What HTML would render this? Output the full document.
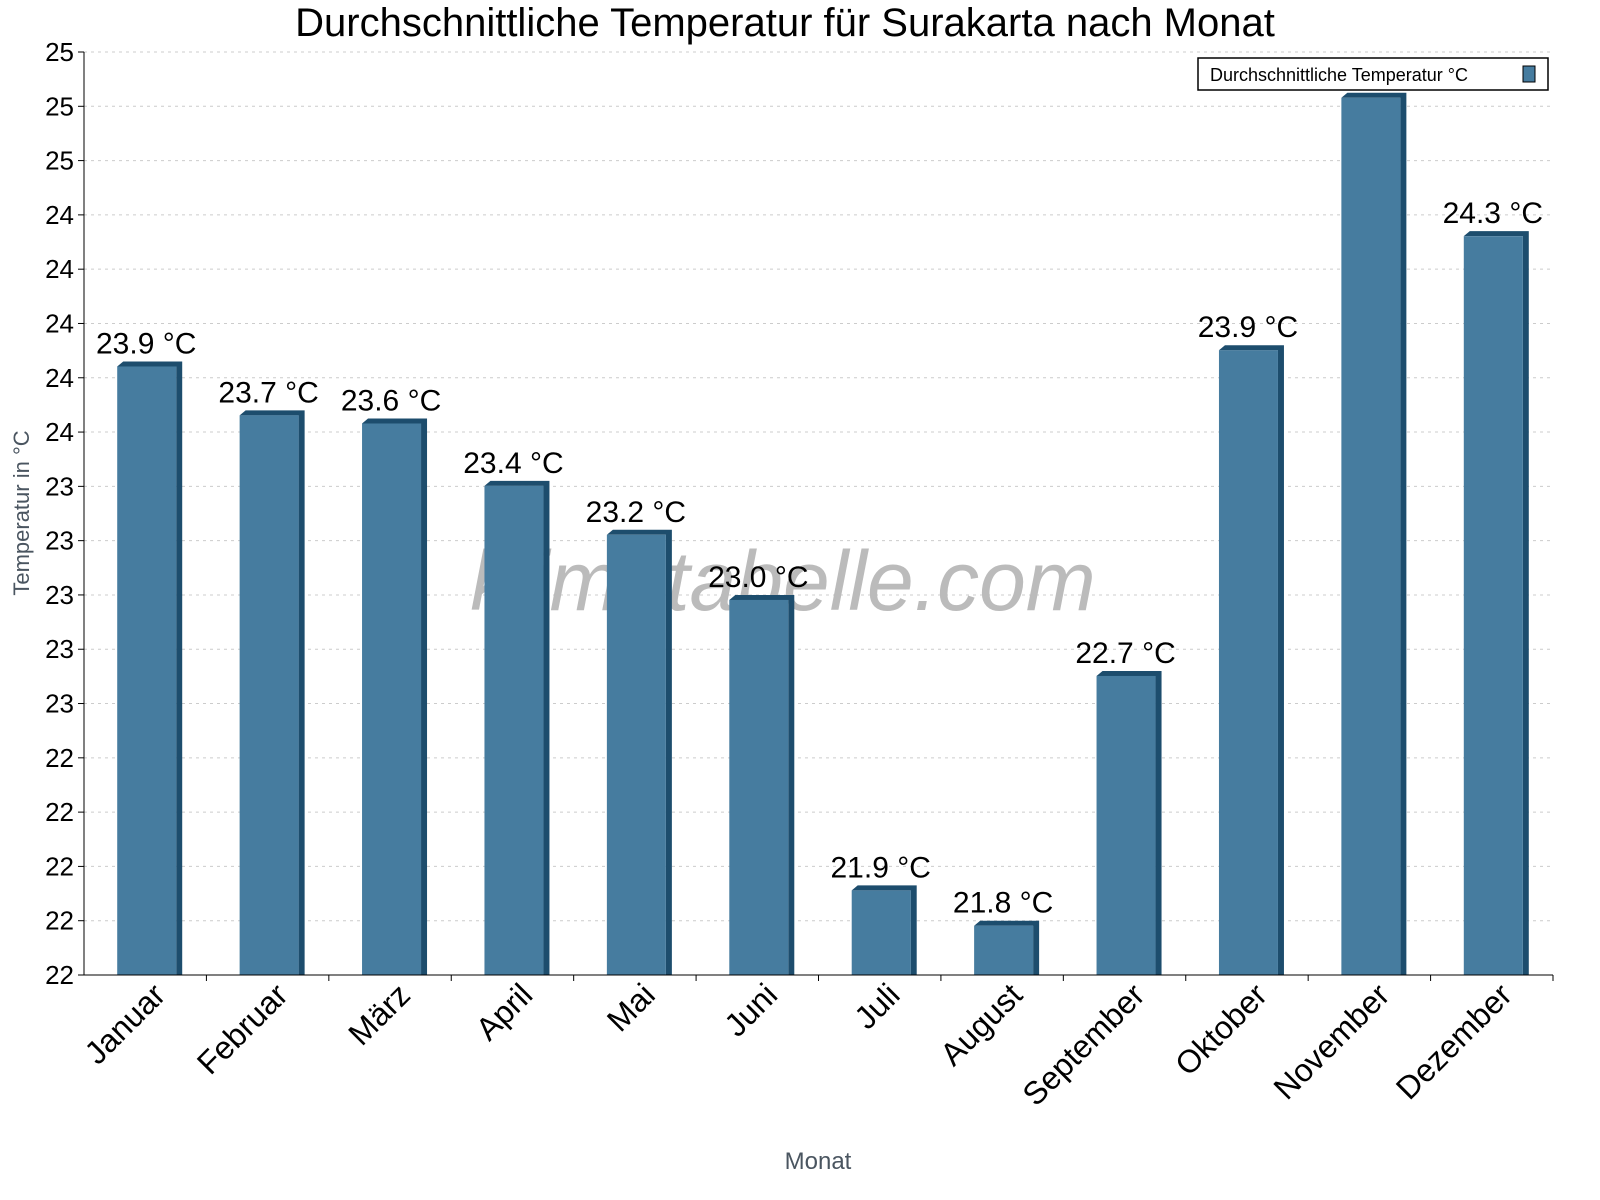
<!DOCTYPE html>
<html><head><meta charset="utf-8"><style>
html,body{margin:0;padding:0;background:#fff;font-family:"Liberation Sans",sans-serif;overflow:hidden;width:1600px;height:1200px;}
svg{display:block;}
svg text{font-family:"Liberation Sans",sans-serif;}
</style></head><body>
<svg id="chart" width="1600" height="1200" viewBox="0 0 1600 1200">
<text x="785" y="36" font-size="40" text-anchor="middle">Durchschnittliche Temperatur für Surakarta nach Monat</text>
<g id="grid"></g>
<text x="783" y="610" font-size="84" font-style="italic" fill="#bbb" text-anchor="middle">klimatabelle.com</text>
<g id="bars"></g>
<g id="axes"></g>
<text transform="translate(29,513) rotate(-90)" font-size="22" fill="#4a5560" text-anchor="middle">Temperatur in °C</text>
<text x="818" y="1169" font-size="24" fill="#4a5560" text-anchor="middle">Monat</text>
<g>
<rect x="1198" y="58" width="350" height="32" fill="#fff" stroke="#000" stroke-width="1.5"/>
<text x="1210" y="81" font-size="18">Durchschnittliche Temperatur °C</text>
<rect x="1523" y="66" width="12" height="16" fill="#467c9f" stroke="#000" stroke-width="1"/>
</g>
</svg>
<script>
const categories=["Januar","Februar","März","April","Mai","Juni","Juli","August","September","Oktober","November","Dezember"];
const values=[23.86,23.68,23.65,23.42,23.24,23.0,21.93,21.8,22.72,23.92,24.85,24.34];
const yTicks=[21.6,21.8,22.0,22.2,22.4,22.6,22.8,23.0,23.2,23.4,23.6,23.8,24.0,24.2,24.4,24.6,24.8,25.0];
const NS="http://www.w3.org/2000/svg";
const L=84,R=1553,T=52,B=975,yMin=21.6,yMax=25.0;
const y=v=>B-(v-yMin)/(yMax-yMin)*(B-T);
const bw=(R-L)/categories.length;
const x=i=>L+bw*(i+0.5);
function mk(tag,attrs,parent){const e=document.createElementNS(NS,tag);for(const k in attrs)e.setAttribute(k,attrs[k]);parent.appendChild(e);return e;}
const grid=document.getElementById('grid'),bars=document.getElementById('bars'),axes=document.getElementById('axes');
yTicks.forEach(t=>{
  const yy=y(t);
  if(t!==yMin){const g=mk('line',{x1:L,x2:R,y1:yy,y2:yy,stroke:'#ccc','stroke-dasharray':'3,4'},grid);
  
  }
  const tk=mk('line',{x1:L-6,x2:L,y1:yy,y2:yy,stroke:'#000'},axes);
  
  
  const lb=mk('text',{x:L-10,y:yy+9,'font-size':26,'text-anchor':'end'},axes);
  lb.textContent=Math.round(t).toString();
  
  
});
mk('line',{x1:L,x2:L,y1:T,y2:B,stroke:'#000'},axes);
mk('line',{x1:L,x2:R,y1:B,y2:B,stroke:'#000'},axes);
categories.forEach((c,i)=>{
  const cx=x(i),top=y(values[i]);
  const g=mk('g',{},bars);
  
  
  const fl=cx-28,fw=59,sd=6,th=5;
  mk('polygon',{points:`${fl},${top+th} ${fl+sd},${top} ${fl+fw+sd},${top} ${fl+fw+sd},${B} ${fl+fw},${B} ${fl+fw},${top+th}`,fill:'#1d4d6d'},g);
  mk('rect',{x:fl,y:top+th,width:fw,height:B-top-th,fill:'#467c9f'},g);
  const vl=mk('text',{x:cx+1,y:top-8,'font-size':30,'text-anchor':'middle'},bars);
  vl.textContent=values[i].toFixed(1)+' °C';
  
  
  const tx=L+bw*(i+1);
  const tk=mk('line',{x1:tx,x2:tx,y1:B,y2:B+6,stroke:'#000'},axes);
  
  
  const xl=mk('text',{transform:`translate(${cx+22},${B+22}) rotate(-45)`,'font-size':32,'text-anchor':'end'},axes);
  xl.textContent=c;
  
  
});
</script>
</body></html>
